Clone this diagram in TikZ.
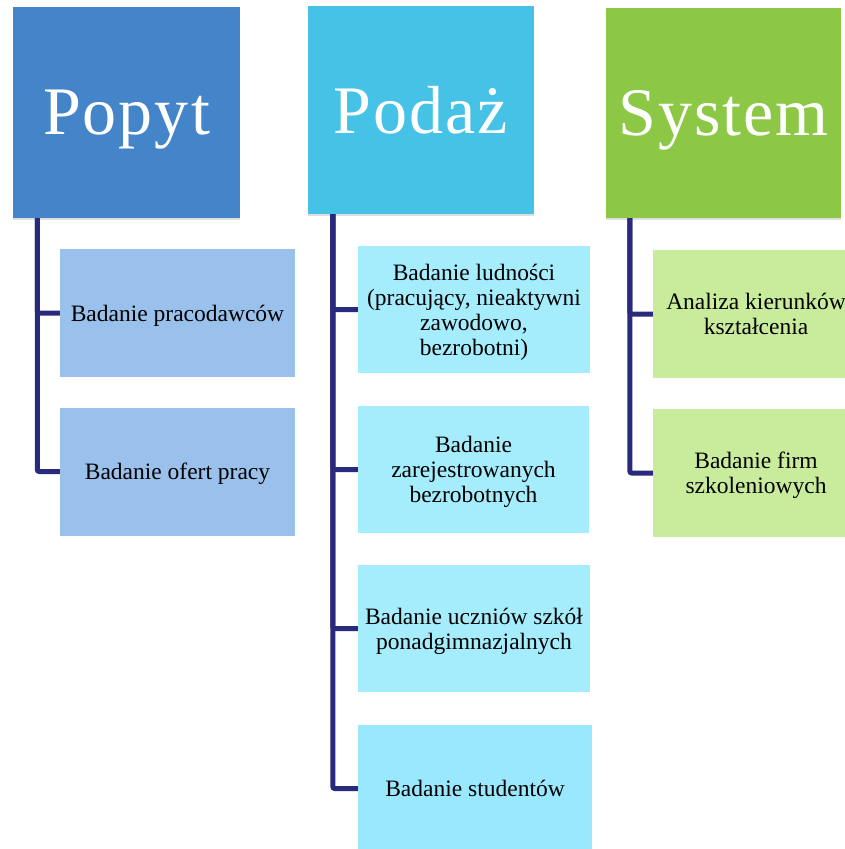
\documentclass[tikz,border=0pt]{standalone}
\usepackage{fontspec}
\setmainfont{Liberation Serif}
\usetikzlibrary{shadows}

\definecolor{popytC}{HTML}{4484C9}
\definecolor{podazC}{HTML}{45C2E5}
\definecolor{systemC}{HTML}{8CC846}
\definecolor{popytL}{HTML}{9AC0EC}
\definecolor{podazL}{HTML}{A5ECFC}
\definecolor{podazL2}{HTML}{99E8FD}
\definecolor{systemL}{HTML}{C9EB9C}
\definecolor{spine}{HTML}{2A2A7C}

\tikzset{
  header/.style={rectangle, inner sep=0pt, text=white, text depth=0pt,
    font=\addfontfeatures{LetterSpace=3}\fontsize{68}{72}\selectfont,
    drop shadow={opacity=0.25, shadow xshift=0pt, shadow yshift=-2pt}},
  item/.style={rectangle, inner sep=0pt, align=center, text=black, text depth=0pt,
    font=\fontsize{23.5}{25}\selectfont},
  link/.style={draw=spine, line width=5pt, rounded corners=2pt}
}

\begin{document}
\begin{tikzpicture}[x=1pt,y=-1pt]
  \useasboundingbox (0,0) rectangle (845,849);
  \clip (0,0) rectangle (845,849);

  % column headers
  \node[header, fill=popytC, minimum width=227pt, minimum height=211pt] (popyt) at (126.5,112.5) {Popyt};
  \node[header, fill=podazC, minimum width=226pt, minimum height=208pt] (podaz) at (421,110) {Podaż};
  \node[header, fill=systemC, minimum width=235pt, minimum height=210pt] (system) at (723.5,113) {System};

  % demand side
  \node[item, fill=popytL, minimum width=235pt, minimum height=128pt] (p1) at (177.5,313) {Badanie pracodawców};
  \node[item, fill=popytL, minimum width=235pt, minimum height=128pt] (p2) at (177.5,471.5) {Badanie ofert pracy};

  % supply side
  \node[item, fill=podazL, minimum width=232pt, minimum height=127pt] (s1) at (474,309.5)
    {Badanie ludności\\(pracujący, nieaktywni\\zawodowo,\\bezrobotni)};
  \node[item, fill=podazL, minimum width=231pt, minimum height=127pt] (s2) at (473.5,469.5)
    {Badanie\\zarejestrowanych\\bezrobotnych};
  \node[item, fill=podazL, minimum width=232pt, minimum height=127pt] (s3) at (474,628.5)
    {Badanie uczniów szkół\\ponadgimnazjalnych};
  \node[item, fill=podazL2, minimum width=234pt, minimum height=127pt] (s4) at (475,788.5)
    {Badanie studentów};

  % education system
  \node[item, fill=systemL, minimum width=206pt, minimum height=128pt] (e1) at (756,314)
    {Analiza kierunków\\kształcenia};
  \node[item, fill=systemL, minimum width=206pt, minimum height=128pt] (e2) at (756,473)
    {Badanie firm\\szkoleniowych};

  % connectors
  \draw[link] ([xshift=24.5pt]popyt.south west) |- (p1.west);
  \draw[link] ([xshift=24.5pt]popyt.south west) |- (p2.west);
  \draw[link] ([xshift=25pt]podaz.south west) |- (s1.west);
  \draw[link] ([xshift=25pt]podaz.south west) |- (s2.west);
  \draw[link] ([xshift=25pt]podaz.south west) |- (s3.west);
  \draw[link] ([xshift=25pt]podaz.south west) |- (s4.west);
  \draw[link] ([xshift=24pt]system.south west) |- (e1.west);
  \draw[link] ([xshift=24pt]system.south west) |- (e2.west);
\end{tikzpicture}
\end{document}
